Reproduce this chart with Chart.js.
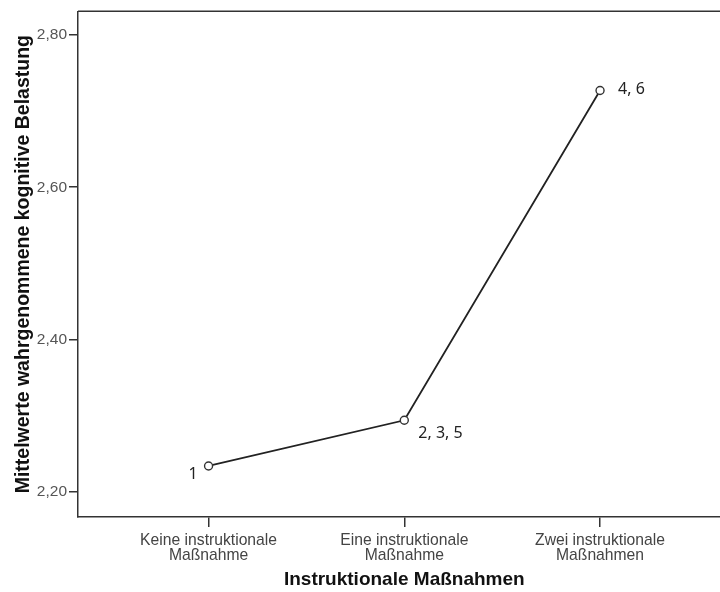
<!DOCTYPE html>
<html>
<head>
<meta charset="utf-8">
<script src="https://cdn.jsdelivr.net/npm/chart.js@4/dist/chart.umd.min.js"></script>
<style>
  html, body { margin: 0; padding: 0; background: #fff; overflow: hidden; width: 720px; height: 592px; }
  canvas { display: block; }
</style>
</head>
<body>
<canvas id="c" width="736" height="592"></canvas>
<script>
// ---- data ----
const categories = [
  ["Keine instruktionale", "Maßnahme"],
  ["Eine instruktionale", "Maßnahme"],
  ["Zwei instruktionale", "Maßnahmen"]
];
const meanValues = [2.234, 2.294, 2.727];
const pointLabels = ["1", "2, 3, 5", "4, 6"];
const yTickValues = [2.20, 2.40, 2.60, 2.80];
const xTitle = "Instruktionale Maßnahmen";
const yTitle = "Mittelwerte wahrgenommene kognitive Belastung";

const AXIS = "#333";

const topBorder = {
  id: "topBorder",
  afterDraw(chart) {
    const { ctx, chartArea } = chart;
    ctx.save();
    ctx.strokeStyle = AXIS;
    ctx.lineWidth = 1.5;
    ctx.beginPath();
    ctx.moveTo(chartArea.left, chartArea.top);
    ctx.lineTo(chartArea.right, chartArea.top);
    ctx.stroke();
    ctx.restore();
  }
};

// label placement relative to its point: [dx, dy, textAlign]
const labelPlacement = [[-11, 8, "right"], [14, 13, "left"], [18, -1, "left"]];
const pointLabelPlugin = {
  id: "pointLabels",
  afterDatasetsDraw(chart) {
    const { ctx } = chart;
    const meta = chart.getDatasetMeta(0);
    ctx.save();
    ctx.font = '16px "Noto Sans"';
    ctx.fillStyle = "#222";
    ctx.textBaseline = "middle";
    meta.data.forEach((pt, i) => {
      const p = labelPlacement[i];
      ctx.textAlign = p[2];
      ctx.fillText(pointLabels[i], pt.x + p[0], pt.y + p[1]);
    });
    ctx.restore();
  }
};

new Chart(document.getElementById("c"), {
  type: "line",
  data: {
    datasets: [{
      data: meanValues.map((v, i) => ({ x: i, y: v })),
      borderColor: "#222",
      borderWidth: 1.8,
      pointRadius: 4,
      pointBorderWidth: 1.4,
      pointBorderColor: "#333",
      pointBackgroundColor: "#fff",
      tension: 0,
      fill: false
    }]
  },
  options: {
    responsive: false,
    animation: false,
    devicePixelRatio: 1,
    layout: { padding: { top: 11, right: 2, left: 0, bottom: 0 } },
    plugins: { legend: { display: false }, tooltip: { enabled: false } },
    scales: {
      x: {
        type: "linear",
        min: -0.667,
        max: 2.667,
        afterBuildTicks: (s) => { s.ticks = categories.map((c, i) => ({ value: i })); },
        afterFit: (s) => { s.height = 75; },
        ticks: {
          callback: (v) => categories[v],
          color: "#444",
          font: { family: '"Liberation Sans", Arial, sans-serif', size: 15.7, lineHeight: 0.97 },
          padding: 6,
          maxRotation: 0,
          autoSkip: false
        },
        grid: { drawOnChartArea: false, drawTicks: true, tickLength: 10, color: AXIS, lineWidth: 1.5 },
        border: { display: true, color: AXIS, width: 1.5 },
        title: {
          display: true,
          text: xTitle,
          color: "#111",
          font: { family: '"Liberation Sans", Arial, sans-serif', size: 19, weight: "bold" },
          padding: { top: 0, bottom: 1 }
        }
      },
      y: {
        type: "linear",
        min: 2.167,
        max: 2.831,
        afterBuildTicks: (s) => { s.ticks = yTickValues.map(v => ({ value: v })); },
        afterFit: (s) => { s.width = 78; },
        ticks: {
          callback: (v) => v.toFixed(2).replace(".", ","),
          color: "#555",
          font: { family: '"Liberation Sans", Arial, sans-serif', size: 15.5 },
          padding: 2
        },
        grid: { drawOnChartArea: false, drawTicks: true, tickLength: 9, color: AXIS, lineWidth: 1.5 },
        border: { display: true, color: AXIS, width: 1.5 },
        title: {
          display: true,
          text: yTitle,
          color: "#111",
          font: { family: '"Liberation Sans", Arial, sans-serif', size: 19.5, weight: "bold" },
          padding: { top: 12, bottom: 0 }
        }
      }
    }
  },
  plugins: [topBorder, pointLabelPlugin]
});
</script>
</body>
</html>
